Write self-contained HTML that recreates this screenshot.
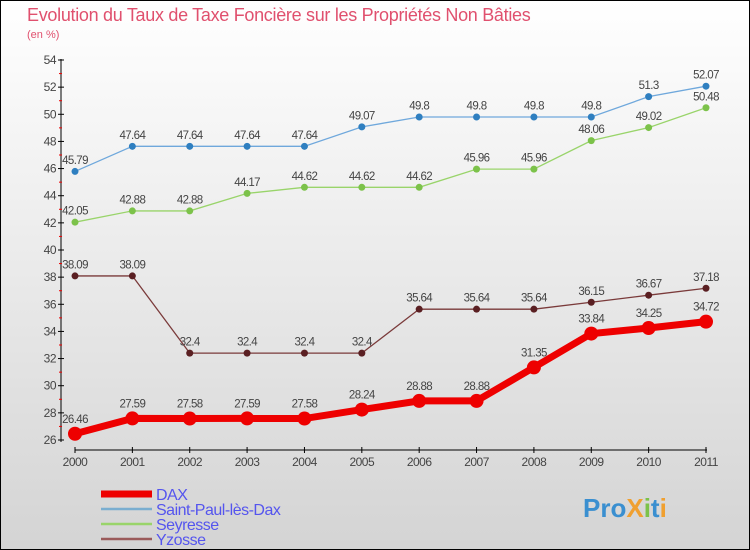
<!DOCTYPE html>
<html><head><meta charset="utf-8"><style>
body{margin:0}
#c{width:750px;height:550px;position:relative;box-sizing:border-box;border:1px solid #000;background:linear-gradient(#fff,#d4d4d4);font-family:"Liberation Sans",sans-serif;overflow:hidden}
</style></head><body>
<div id="c">
<svg id="s" width="748" height="548"></svg>
</div>
<script>
const years=["2000","2001","2002","2003","2004","2005","2006","2007","2008","2009","2010","2011"];
const dax=[26.46,27.59,27.58,27.59,27.58,28.24,28.88,28.88,31.35,33.84,34.25,34.72];
const stpaul=[45.79,47.64,47.64,47.64,47.64,49.07,49.8,49.8,49.8,49.8,51.3,52.07];
const seyresse=[42.05,42.88,42.88,44.17,44.62,44.62,44.62,45.96,45.96,48.06,49.02,50.48];
const yzosse=[38.09,38.09,32.4,32.4,32.4,32.4,35.64,35.64,35.64,36.15,36.67,37.18];
const yTicks=[26,28,30,32,34,36,38,40,42,44,46,48,50,52,54];
const NS="http://www.w3.org/2000/svg";
const s=document.getElementById('s');
function X(i){return 74+i*(705-74)/11;}
function Y(v){return 439-(v-26)*(380/28);}
function el(t,a,p){const e=document.createElementNS(NS,t);for(const k in a)e.setAttribute(k,a[k]);(p||s).appendChild(e);return e;}
function txt(x,y,str,a,p){const e=el('text',Object.assign({x:x,y:y},a),p);e.textContent=str;return e;}
let t=txt(26,20,"Evolution du Taux de Taxe Foncière sur les Propriétés Non Bâties",{fill:'#e0506e','font-size':18,'letter-spacing':'-0.3'});

t=txt(26,37,"(en %)",{fill:'#e0506e','font-size':11});

let a=el('line',{x1:60,y1:58,x2:60,y2:441,stroke:'#000'});
a=el('line',{x1:74,y1:449,x2:706,y2:449,stroke:'#000'});
yTicks.forEach(v=>{const y=Y(v);el('line',{x1:57,y1:y,x2:63,y2:y,stroke:'#000'});
 if(v<54)el('line',{x1:58,y1:Y(v+1),x2:61,y2:Y(v+1),stroke:'#e00'});
 const l=txt(55,y+4,String(v),{'text-anchor':'end','font-size':12,fill:'#444','letter-spacing':'-0.5'});
 });
years.forEach((yr,i)=>{el('line',{x1:X(i),y1:446,x2:X(i),y2:452,stroke:'#000'});
 const l=txt(X(i),465,yr,{'text-anchor':'middle','font-size':12,fill:'#444','letter-spacing':'-0.5'});
 });
function series(d,col,dot,w,r,name){
 const g=el('g',{});
 el('polyline',{points:d.map((v,i)=>X(i)+','+Y(v)).join(' '),fill:'none',stroke:col,'stroke-width':w},g);
 d.forEach((v,i)=>{const c=el('circle',{cx:X(i),cy:Y(v),r:r,fill:dot},g);
  
  const l=txt(X(i),Y(v)-(r+4),String(v),{'text-anchor':'middle','font-size':11.5,fill:'#444','letter-spacing':'-0.6'},g);
  });
}
series(stpaul,'#6fa8dc','#2f7fc0',1.3,3.5,'saint-paul');
series(seyresse,'#99d46a','#7cc24a',1.3,3.5,'seyresse');
series(yzosse,'#7a3a3a','#5a1f22',1.3,3.5,'yzosse');
series(dax,'#ee0000','#ee0000',7,7,'dax');
const leg=[['DAX','#ee0000',7],['Saint-Paul-lès-Dax','#7aaed0',2.5],['Seyresse','#99d46a',2.5],['Yzosse','#9a5a5a',2.5]];
leg.forEach((e,i)=>{const y=493+i*15;const g=el('g',{});
 el('line',{x1:100,y1:y,x2:151,y2:y,stroke:e[1],'stroke-width':e[2]},g);
 txt(155,y+6,e[0],{'font-size':16,fill:'#5555ee','letter-spacing':'-0.5'},g);});
const logo=el('text',{x:582,y:516,'font-size':26,'font-weight':'bold'});

[['Pro','#3a8fd0'],['X','#f0a030'],['i','#7cc24a'],['t','#3a8fd0'],['i','#f0a030']].forEach(p=>{const sp=el('tspan',{fill:p[1]},logo);sp.textContent=p[0];});
</script>
</body></html>
